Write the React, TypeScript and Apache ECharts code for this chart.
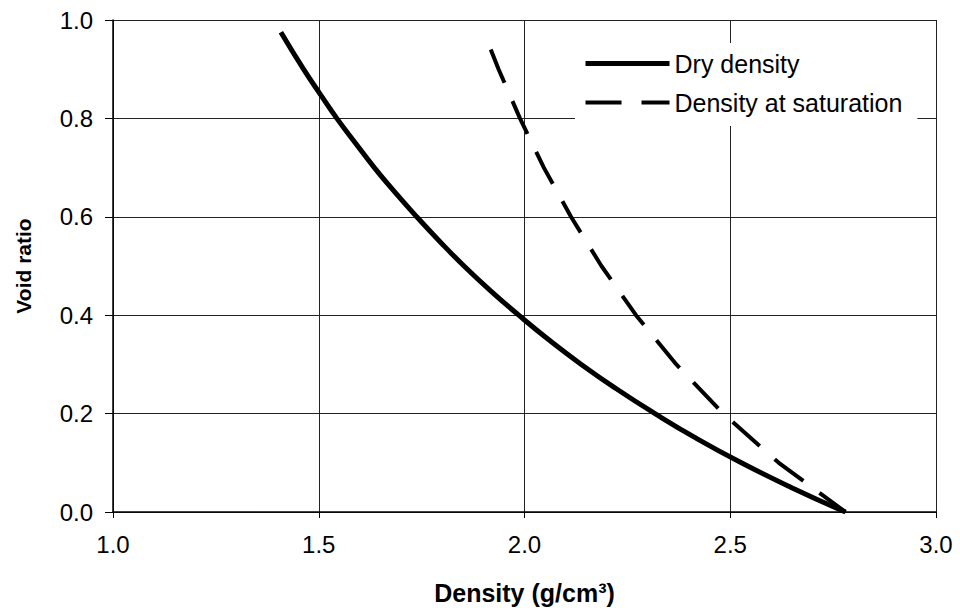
import React, { useEffect, useRef } from "react";
import * as echarts from "echarts";

const xTicks = [1.0, 1.5, 2.0, 2.5, 3.0];
const yTicks = [0.0, 0.2, 0.4, 0.6, 0.8, 1.0];

// Dry density (g/cm3) vs void ratio
const dryDensity = [1.408, 1.463, 1.503, 1.544, 1.589, 1.635, 1.685, 1.738, 1.794, 1.853, 1.917, 1.986, 2.059, 2.138, 2.224, 2.317, 2.417, 2.527, 2.648, 2.78];
const dryVoid = [0.975, 0.9, 0.85, 0.8, 0.75, 0.7, 0.65, 0.6, 0.55, 0.5, 0.45, 0.4, 0.35, 0.3, 0.25, 0.2, 0.15, 0.1, 0.05, 0.0];

// Density at saturation vs void ratio
const satDensity = [1.918, 1.937, 1.989, 2.047, 2.113, 2.187, 2.271, 2.369, 2.483, 2.618, 2.78];
const satVoid = [0.94, 0.9, 0.8, 0.7, 0.6, 0.5, 0.4, 0.3, 0.2, 0.1, 0.0];

const seriesNames = ["Dry density", "Density at saturation"];
const FONT = "'Liberation Sans', Arial, Helvetica, sans-serif";

export default function App() {
  const ref = useRef<HTMLDivElement>(null);
  useEffect(() => {
    if (!ref.current) return;
    const chart = echarts.init(ref.current, null, { renderer: "svg" });
    const dash = [36, 20];
    chart.setOption({
      animation: false,
      backgroundColor: "#ffffff",
      textStyle: { fontFamily: FONT, color: "#000" },
      grid: { left: 113, right: 24, top: 20, bottom: 101, containLabel: false },
      legend: {
        orient: "vertical",
        left: 575,
        top: 43,
        backgroundColor: "#ffffff",
        padding: [8, 15, 11, 8],
        itemWidth: 84,
        itemHeight: 14,
        itemGap: 14,
        textStyle: { fontFamily: FONT, fontSize: 25, color: "#000" },
        itemStyle: { opacity: 0, borderWidth: 0 },
        data: [
          { name: seriesNames[0], itemStyle: { opacity: 0, borderWidth: 0 }, lineStyle: { width: 5, color: "#000" } },
          { name: seriesNames[1], itemStyle: { opacity: 0, borderWidth: 0 }, lineStyle: { width: 4, color: "#000", type: dash } },
        ],
      },
      xAxis: {
        type: "value",
        min: xTicks[0],
        max: xTicks[xTicks.length - 1],
        interval: 0.5,
        name: "Density (g/cm³)",
        nameLocation: "middle",
        nameGap: 68,
        nameTextStyle: { fontFamily: FONT, fontSize: 25, fontWeight: "bold", color: "#000" },
        axisLine: { onZero: false, lineStyle: { color: "#000", width: 1.5 } },
        axisTick: { show: true, inside: false, length: 6, lineStyle: { color: "#000", width: 1 } },
        axisLabel: { margin: 20, fontSize: 24, color: "#000", fontFamily: FONT, formatter: (v: number) => v.toFixed(1) },
        splitLine: { show: true, lineStyle: { color: "#222", width: 1 } },
      },
      yAxis: {
        type: "value",
        min: yTicks[0],
        max: yTicks[yTicks.length - 1],
        interval: 0.2,
        name: "Void ratio",
        nameLocation: "middle",
        nameGap: 79,
        nameRotate: 90,
        nameTextStyle: { fontFamily: FONT, fontSize: 21, fontWeight: "bold", color: "#000" },
        axisLine: { show: true, onZero: false, lineStyle: { color: "#000", width: 1.5 } },
        axisTick: { show: true, inside: false, length: 8, lineStyle: { color: "#000", width: 1 } },
        axisLabel: { margin: 20, fontSize: 24, color: "#000", fontFamily: FONT, formatter: (v: number) => v.toFixed(1) },
        splitLine: { show: true, lineStyle: { color: "#222", width: 1 } },
      },
      series: [
        {
          name: seriesNames[0],
          type: "line",
          symbol: "none",
          smooth: true,
          data: dryDensity.map((x, i) => [x, dryVoid[i]]),
          lineStyle: { color: "#000", width: 5 },
          itemStyle: { color: "#000" },
          z: 3,
        },
        {
          name: seriesNames[1],
          type: "line",
          symbol: "none",
          data: satDensity.map((x, i) => [x, satVoid[i]]),
          lineStyle: { color: "#000", width: 4, type: dash },
          itemStyle: { color: "#000" },
          z: 2,
        },
      ],
    });
    return () => chart.dispose();
  }, []);
  return <div ref={ref} style={{ width: 960, height: 613, position: "absolute", left: 0, top: 0 }} />;
}
